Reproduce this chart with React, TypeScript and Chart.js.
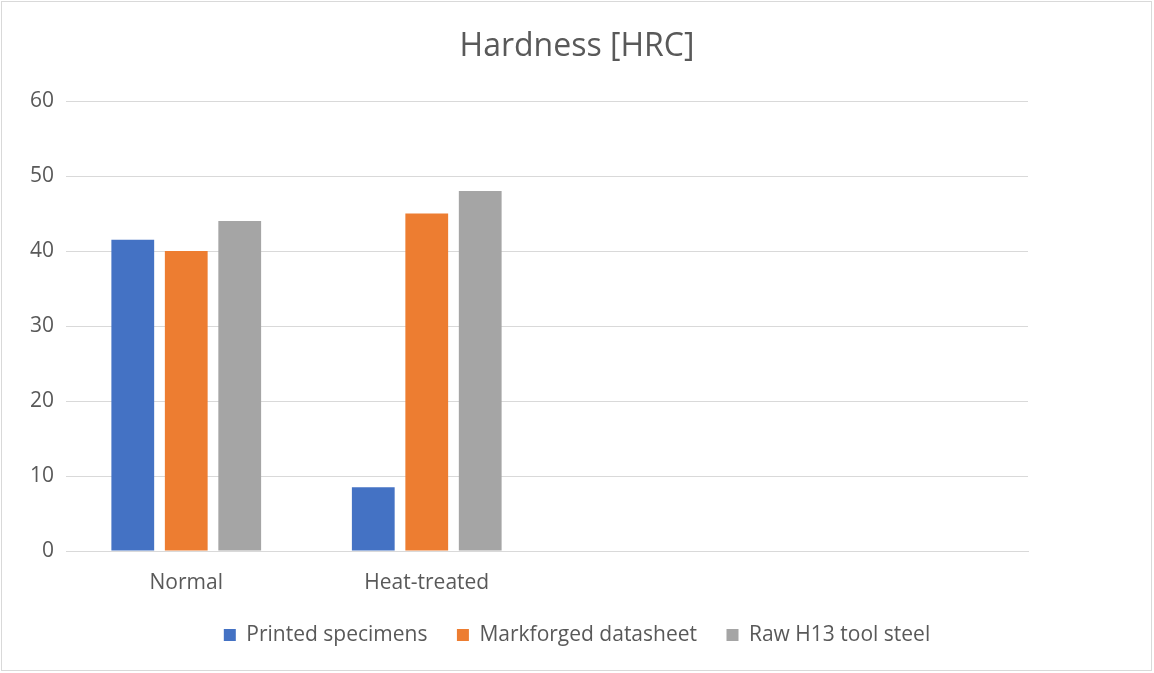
import React, { useEffect, useRef } from "react";
import { Chart, registerables } from "chart.js";

Chart.register(...registerables);

const categories = ["Normal", "Heat-treated", "", ""];
const printedSpecimens = [41.5, 8.5];
const markforgedDatasheet = [40, 45];
const rawH13 = [44, 48];
const yTicks = [0, 10, 20, 30, 40, 50, 60];

const FONT = "'Open Sans', sans-serif";
const TEXT = "#595959";
const GRID = "#D9D9D9";

export default function App() {
  const ref = useRef<HTMLCanvasElement | null>(null);

  useEffect(() => {
    if (!ref.current) return;
    const chart = new Chart(ref.current, {
      type: "bar",
      data: {
        labels: categories,
        datasets: [
          { label: "Printed specimens", data: printedSpecimens, backgroundColor: "#4472C4", borderWidth: 0 },
          { label: "Markforged datasheet", data: markforgedDatasheet, backgroundColor: "#ED7D31", borderWidth: 0 },
          { label: "Raw H13 tool steel", data: rawH13, backgroundColor: "#A5A5A5", borderWidth: 0 },
        ],
      },
      options: {
        responsive: false,
        animation: false,
        categoryPercentage: 0.667,
        barPercentage: 0.8,
        layout: { padding: { left: 0, right: 0, top: 0, bottom: 17.5 } },
        plugins: {
          title: {
            display: true,
            text: "Hardness [HRC]",
            color: TEXT,
            font: { family: FONT, size: 32, weight: "normal" },
            padding: { top: 28, bottom: 34.6 },
          },
          legend: {
            display: true,
            position: "bottom",
            labels: {
              color: TEXT,
              font: { family: FONT, size: 21 },
              boxWidth: 12,
              boxHeight: 12,
              padding: 29.5,
            },
          },
          tooltip: { enabled: false },
        },
        scales: {
          x: {
            grid: { display: false, drawTicks: false },
            border: { display: true, color: GRID, width: 1 },
            ticks: { color: TEXT, font: { family: FONT, size: 21 }, padding: 19, maxRotation: 0 },
            afterFit: (s: any) => { s.height = 44; },
          },
          y: {
            min: 0,
            max: 60,
            afterBuildTicks: (s: any) => { s.ticks = yTicks.map((v) => ({ value: v })); },
            grid: { color: GRID, lineWidth: 1, drawTicks: false },
            border: { display: false },
            ticks: { color: TEXT, font: { family: FONT, size: 21 }, padding: 12 },
            afterFit: (s: any) => { s.width = 66; },
          },
          yR: {
            position: "right",
            display: true,
            min: 0,
            max: 60,
            grid: { display: false, drawTicks: false },
            border: { display: false },
            ticks: { display: false },
            afterFit: (s: any) => { s.width = 126; },
          },
        },
      } as any,
    });
    return () => chart.destroy();
  }, []);

  return (
    <div style={{ position: "fixed", left: 0, top: 0, width: 1154, height: 673, background: "#fff" }}>
      <canvas ref={ref} width={1154} height={673} style={{ position: "absolute", left: 0, top: 0 }} />
      <div
        style={{
          position: "absolute",
          left: 1,
          top: 1,
          width: 1151,
          height: 670,
          border: "1px solid #D9D9D9",
          boxSizing: "border-box",
          pointerEvents: "none",
        }}
      />
    </div>
  );
}
